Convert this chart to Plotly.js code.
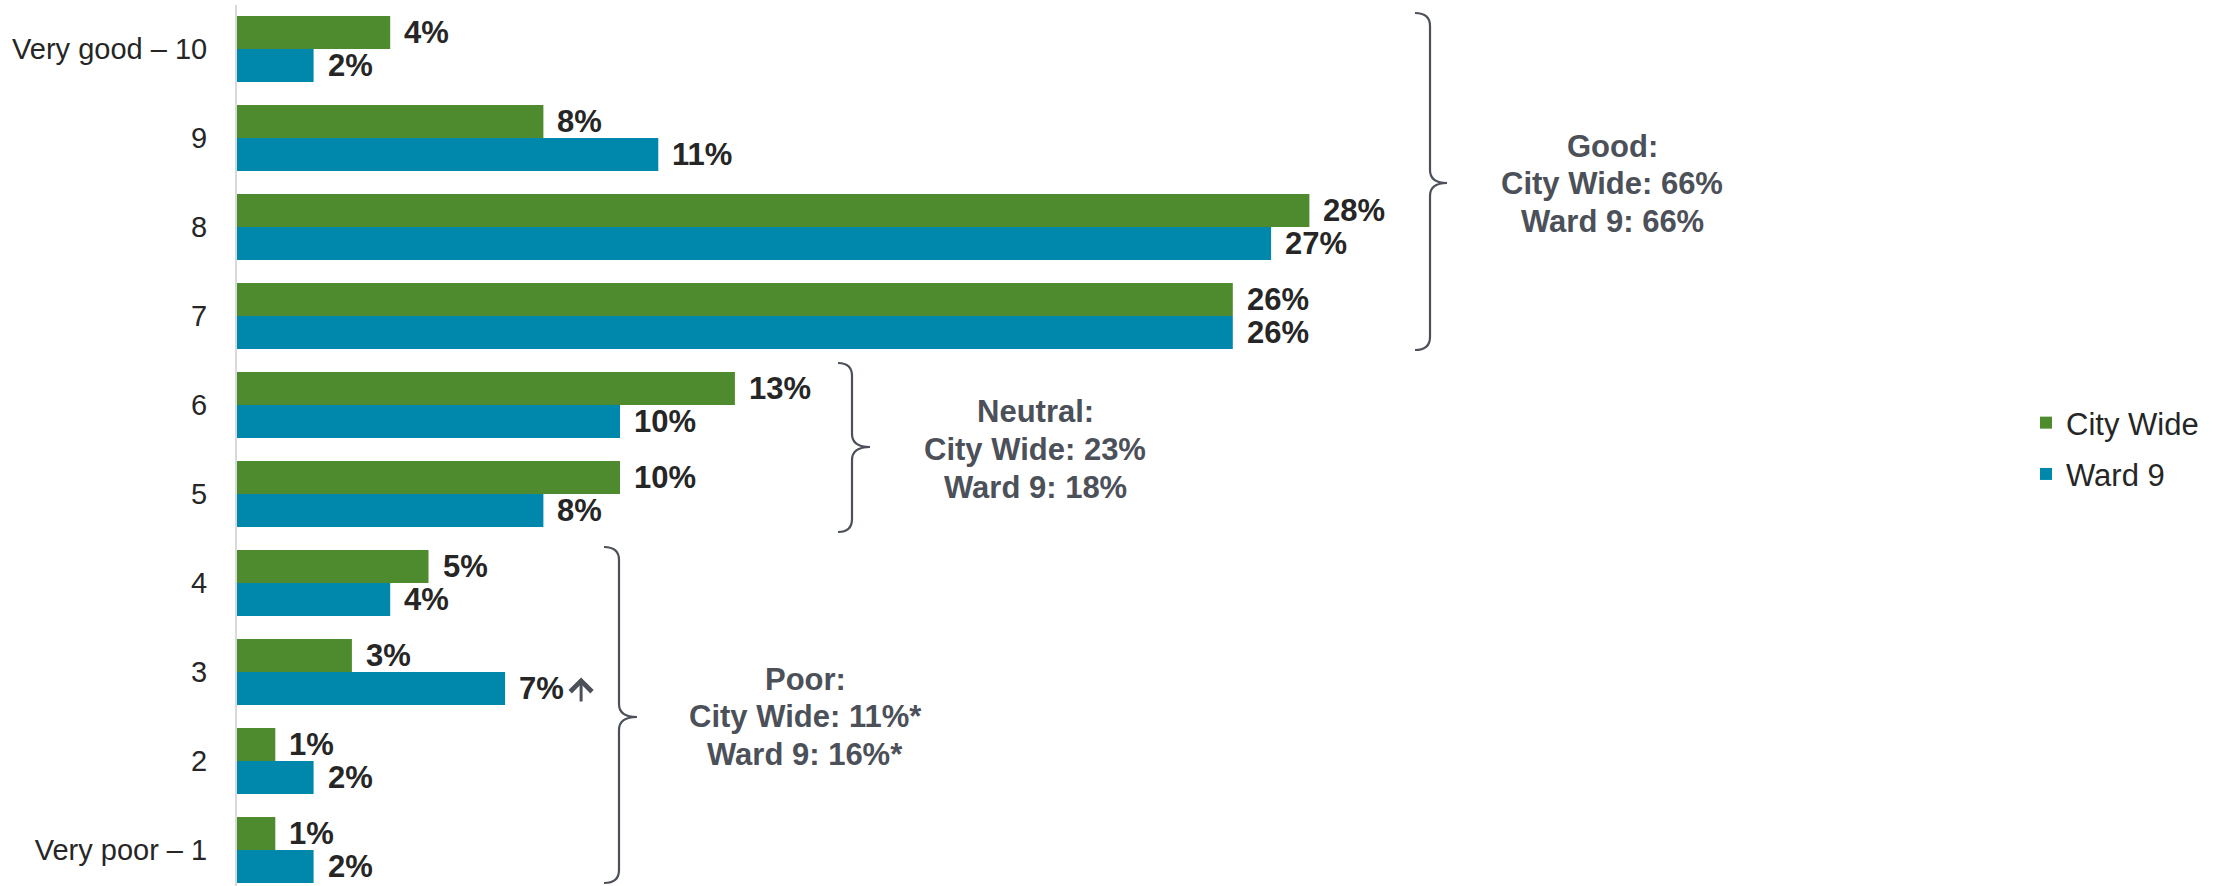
<!DOCTYPE html>
<html>
<head>
<meta charset="utf-8">
<script src="https://cdn.plot.ly/plotly-3.0.1.min.js"></script>
<style>
html,body{margin:0;padding:0;background:#ffffff;}
#chart{width:2233px;height:886px;}
</style>
</head>
<body>
<div id="chart"></div>
<script>
// ---------- data ----------
const categories = ['Very good – 10', '9', '8', '7', '6', '5', '4', '3', '2', 'Very poor – 1'];
const cityWide = [4, 8, 28, 26, 13, 10, 5, 3, 1, 1];
const ward9 = [2, 11, 27, 26, 10, 8, 4, 7, 2, 2];
const ward9SigUp = [false, false, false, false, false, false, false, true, false, false];
const seriesNames = ['City Wide', 'Ward 9'];

const groupTitles = ['Good:', 'Neutral:', 'Poor:'];
const groupCityWide = ['66%', '23%', '11%*'];
const groupWard9 = ['66%', '18%', '16%*'];

// ---------- style ----------
const FONT = 'Liberation Sans, Arial, Helvetica, sans-serif';
const GREEN = '#4E8B2E';
const BLUE = '#0087AC';
const DARK = '#262626';
const GREY = '#4B5059';

const W = 2233, H = 886;
const M = {l: 237, r: 0, t: 5, b: 0};
const PW = W - M.l - M.r, PH = H - M.t - M.b;
const px2x = p => (p - M.l) / PW;
const px2y = p => 1 - (p - M.t) / PH;

const BARGAP = 0.258;
const HALF = (1 - BARGAP) / 4; // centre offset of each bar in a group

// ---------- traces ----------
const traces = [
  {type: 'bar', orientation: 'h', name: seriesNames[0], y: categories, x: cityWide,
   marker: {color: GREEN}, legendgroup: 'a', hoverinfo: 'x+y'},
  {type: 'bar', orientation: 'h', name: seriesNames[1], y: categories, x: ward9,
   marker: {color: BLUE}, legendgroup: 'b', hoverinfo: 'x+y'}
];

// ---------- annotations ----------
const annotations = [];
categories.forEach((c, i) => {
  annotations.push({
    xref: 'x', yref: 'y', x: cityWide[i], y: i - HALF, xanchor: 'left', yanchor: 'middle',
    xshift: 12, showarrow: false, text: '<b>' + cityWide[i] + '%</b>',
    font: {family: FONT, size: 31, color: DARK}
  });
  annotations.push({
    xref: 'x', yref: 'y', x: ward9[i], y: i + HALF, xanchor: 'left', yanchor: 'middle',
    xshift: 12, showarrow: false, text: '<b>' + ward9[i] + '%</b>',
    font: {family: FONT, size: 31, color: DARK}
  });
  if (ward9SigUp[i]) {
    // significance arrow after the label
    annotations.push({
      xref: 'x', yref: 'y', x: ward9[i], y: i + HALF, text: ' ',
      font: {size: 1, color: 'rgba(0,0,0,0)'},
      showarrow: true, axref: 'pixel', ayref: 'pixel', ax: 0, ay: 26,
      xshift: 76, yshift: 11, standoff: 0, startstandoff: 0,
      arrowhead: 4, arrowsize: 1.4, arrowwidth: 3, arrowcolor: GREY
    });
  }
});

// group summary text (pixel centre x, first line y)
const groupTextPos = [[1612, 146], [1035, 412], [805, 679]];
const LINE = 37.5;
groupTitles.forEach((t, g) => {
  const lines = [t, 'City Wide: ' + groupCityWide[g], 'Ward 9: ' + groupWard9[g]];
  lines.forEach((ln, k) => {
    annotations.push({
      xref: 'paper', yref: 'paper', x: px2x(groupTextPos[g][0]), y: px2y(groupTextPos[g][1] + k * LINE),
      xanchor: 'center', yanchor: 'middle', showarrow: false, text: '<b>' + ln + '</b>',
      font: {family: FONT, size: 31, color: GREY}
    });
  });
});

// ---------- brackets ----------
function brace(xLine, xHook, xTip, yTop, yMid, yBot) {
  const r = 13;
  const P = (x, y) => px2x(x).toFixed(5) + ',' + px2y(y).toFixed(5);
  return 'M' + P(xHook, yTop) +
    ' Q' + P(xLine, yTop) + ' ' + P(xLine, yTop + r) +
    ' L' + P(xLine, yMid - r) +
    ' Q' + P(xLine, yMid) + ' ' + P(xTip, yMid) +
    ' Q' + P(xLine, yMid) + ' ' + P(xLine, yMid + r) +
    ' L' + P(xLine, yBot - r) +
    ' Q' + P(xLine, yBot) + ' ' + P(xHook, yBot);
}
const braceGeom = [
  [1430, 1415, 1447, 13, 183, 350],
  [852, 838, 870, 363, 447, 532],
  [619, 604, 637, 547, 717, 883]
];
const shapes = braceGeom.map(b => ({
  type: 'path', xref: 'paper', yref: 'paper', path: brace.apply(null, b),
  line: {color: GREY, width: 2.2}
}));

// ---------- layout ----------
const yTop = -(49 - M.t) / 89;
const yBottom = yTop + PH / 89;
const layout = {
  width: W, height: H,
  margin: {l: M.l, r: M.r, t: M.t, b: M.b, pad: 0},
  paper_bgcolor: '#ffffff', plot_bgcolor: '#ffffff',
  barmode: 'group', bargap: BARGAP, bargroupgap: 0,
  font: {family: FONT, color: DARK},
  xaxis: {range: [0, PW / 38.3], showgrid: false, zeroline: false, showticklabels: false,
          ticks: '', showline: false, fixedrange: true},
  yaxis: {type: 'category', categoryorder: 'array', categoryarray: categories,
          range: [yBottom, yTop], showgrid: false, zeroline: false,
          showline: true, linecolor: '#D9D9D9', linewidth: 2,
          ticks: '', ticklabelstandoff: 22,
          tickfont: {family: FONT, size: 29, color: DARK}, automargin: false, fixedrange: true},
  showlegend: true,
  legend: {x: px2x(2026), y: px2y(396), xanchor: 'left', yanchor: 'top',
           traceorder: 'grouped', tracegroupgap: 8,
           font: {family: FONT, size: 31, color: DARK}, bgcolor: 'rgba(0,0,0,0)'},
  annotations: annotations,
  shapes: shapes
};

Plotly.newPlot('chart', traces, layout, {displayModeBar: false, staticPlot: true});
</script>
</body>
</html>
